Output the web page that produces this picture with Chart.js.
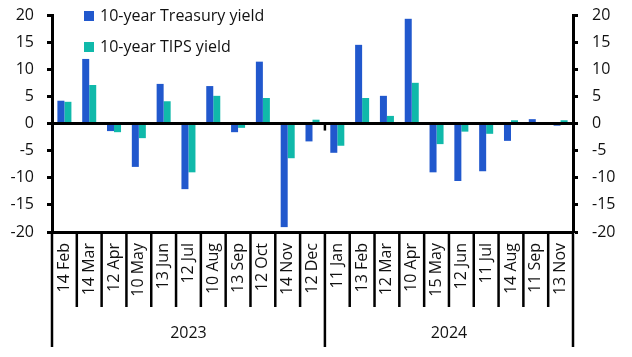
<!DOCTYPE html>
<html><head><meta charset="utf-8">
<script src="https://cdn.jsdelivr.net/npm/chart.js@4/dist/chart.umd.min.js"></script>
<style>html,body{margin:0;padding:0;background:#fff}#wrap{width:632px;height:357px}</style>
</head><body><div id="wrap"><canvas id="c" width="632" height="357"></canvas></div>
<script>
const categories = ["14 Feb","14 Mar","12 Apr","10 May","13 Jun","12 Jul","10 Aug","13 Sep","12 Oct","14 Nov","12 Dec",
                    "11 Jan","13 Feb","12 Mar","10 Apr","15 May","12 Jun","11 Jul","14 Aug","11 Sep","13 Nov"];
const years = ["2023","2024"];
const yearCounts = [11,10];
const treasury = [4.2, 11.9, -1.4, -8.0, 7.3, -12.1, 6.9, -1.6, 11.4, -19.1, -3.3,
                  -5.4, 14.5, 5.1, 19.3, -9.0, -10.6, -8.8, -3.2, 0.8, -0.4];
const tips =     [4.0, 7.1, -1.6, -2.7, 4.1, -9.0, 5.1, -0.8, 4.7, -6.4, 0.7,
                  -4.1, 4.7, 1.4, 7.5, -3.8, -1.5, -1.9, 0.6, 0.0, 0.6];
const seriesNames = ["10-year Treasury yield","10-year TIPS yield"];
const yMin = -20, yMax = 20, yStep = 5;
const dividerStub = -1.3;

const FONT = '"Open Sans"';
const FSIZE = 16;
const TXT = '#111';

const overlay = {
  id:'overlay',
  afterDraw(chart){
    const ctx = chart.ctx, x = chart.scales.x, y = chart.scales.y, ca = chart.chartArea;
    ctx.save();
    ctx.strokeStyle = '#000';
    const y0 = y.getPixelForValue(0);
    ctx.lineWidth = 3;
    ctx.beginPath(); ctx.moveTo(ca.left, y0); ctx.lineTo(ca.right, y0); ctx.stroke();
    const half = (x.getPixelForValue(1) - x.getPixelForValue(0)) / 2;
    const groupBounds = [0];
    let acc = 0; yearCounts.forEach(c => { acc += c; groupBounds.push(acc); });
    ctx.lineWidth = 2.5;
    for (let i = 0; i <= categories.length; i++) {
      const bx = x.getPixelForValue(i) - half;
      const isGroup = groupBounds.includes(i);
      ctx.beginPath();
      ctx.moveTo(bx, ca.bottom);
      ctx.lineTo(bx, isGroup ? ca.bottom + 115 : ca.bottom + 75);
      ctx.stroke();
    }
    const sx = x.getPixelForValue(yearCounts[0]) - half;
    ctx.beginPath(); ctx.moveTo(sx, y0); ctx.lineTo(sx, y.getPixelForValue(dividerStub)); ctx.stroke();
    ctx.fillStyle = TXT; ctx.font = FSIZE + 'px ' + FONT; ctx.textAlign = 'center'; ctx.textBaseline = 'middle';
    for (let g = 0; g < years.length; g++) {
      const a = x.getPixelForValue(groupBounds[g]) - half;
      const b = x.getPixelForValue(groupBounds[g+1]) - half;
      ctx.fillText(years[g], (a+b)/2, ca.bottom + 101);
    }
    ctx.textAlign = 'left';
    chart.data.datasets.forEach((ds, i) => {
      const ly = 16 + i * 31;
      ctx.fillStyle = ds.backgroundColor;
      ctx.fillRect(84, ly - 5, 10, 10);
      ctx.fillStyle = TXT;
      ctx.fillText(ds.label, 100, ly);
    });
    ctx.restore();
  }
};

const fontSpec = {family: FONT, size: FSIZE};
new Chart(document.getElementById('c'), {
  type:'bar',
  data:{
    labels: categories,
    datasets:[
      {label: seriesNames[0], data: treasury, backgroundColor:'#2158cd', yAxisID:'y', barPercentage:1, categoryPercentage:0.565},
      {label: seriesNames[1], data: tips, backgroundColor:'#10b9aa', yAxisID:'y', barPercentage:1, categoryPercentage:0.565}
    ]
  },
  options:{
    responsive:false, animation:false, devicePixelRatio:1,
    layout:{padding:{top:15,left:0,right:0,bottom:0}},
    plugins:{legend:{display:false}, tooltip:{enabled:false}},
    scales:{
      x:{
        offset:true,
        grid:{display:true, drawOnChartArea:false, drawTicks:false},
        border:{color:'#000', width:3},
        ticks:{autoSkip:false, minRotation:90, maxRotation:90, padding:11, color:TXT, font:fontSpec},
        afterFit(s){ s.height = 125; s.paddingLeft = 0; s.paddingRight = 0; }
      },
      y:{
        position:'left', min:yMin, max:yMax,
        ticks:{stepSize:yStep, padding:13, color:TXT, font:fontSpec},
        grid:{drawOnChartArea:false, tickLength:5, tickWidth:3, tickColor:'#000'},
        border:{color:'#000', width:3},
        afterFit(s){ s.width = 52; s.paddingTop = 0; s.paddingBottom = 0; }
      },
      y2:{
        position:'right', min:yMin, max:yMax,
        ticks:{stepSize:yStep, padding:14, color:TXT, font:fontSpec},
        grid:{drawOnChartArea:false, tickLength:5, tickWidth:3, tickColor:'#000'},
        border:{color:'#000', width:3},
        afterFit(s){ s.width = 59; s.paddingTop = 0; s.paddingBottom = 0; }
      }
    }
  },
  plugins:[overlay]
});
</script></body></html>
